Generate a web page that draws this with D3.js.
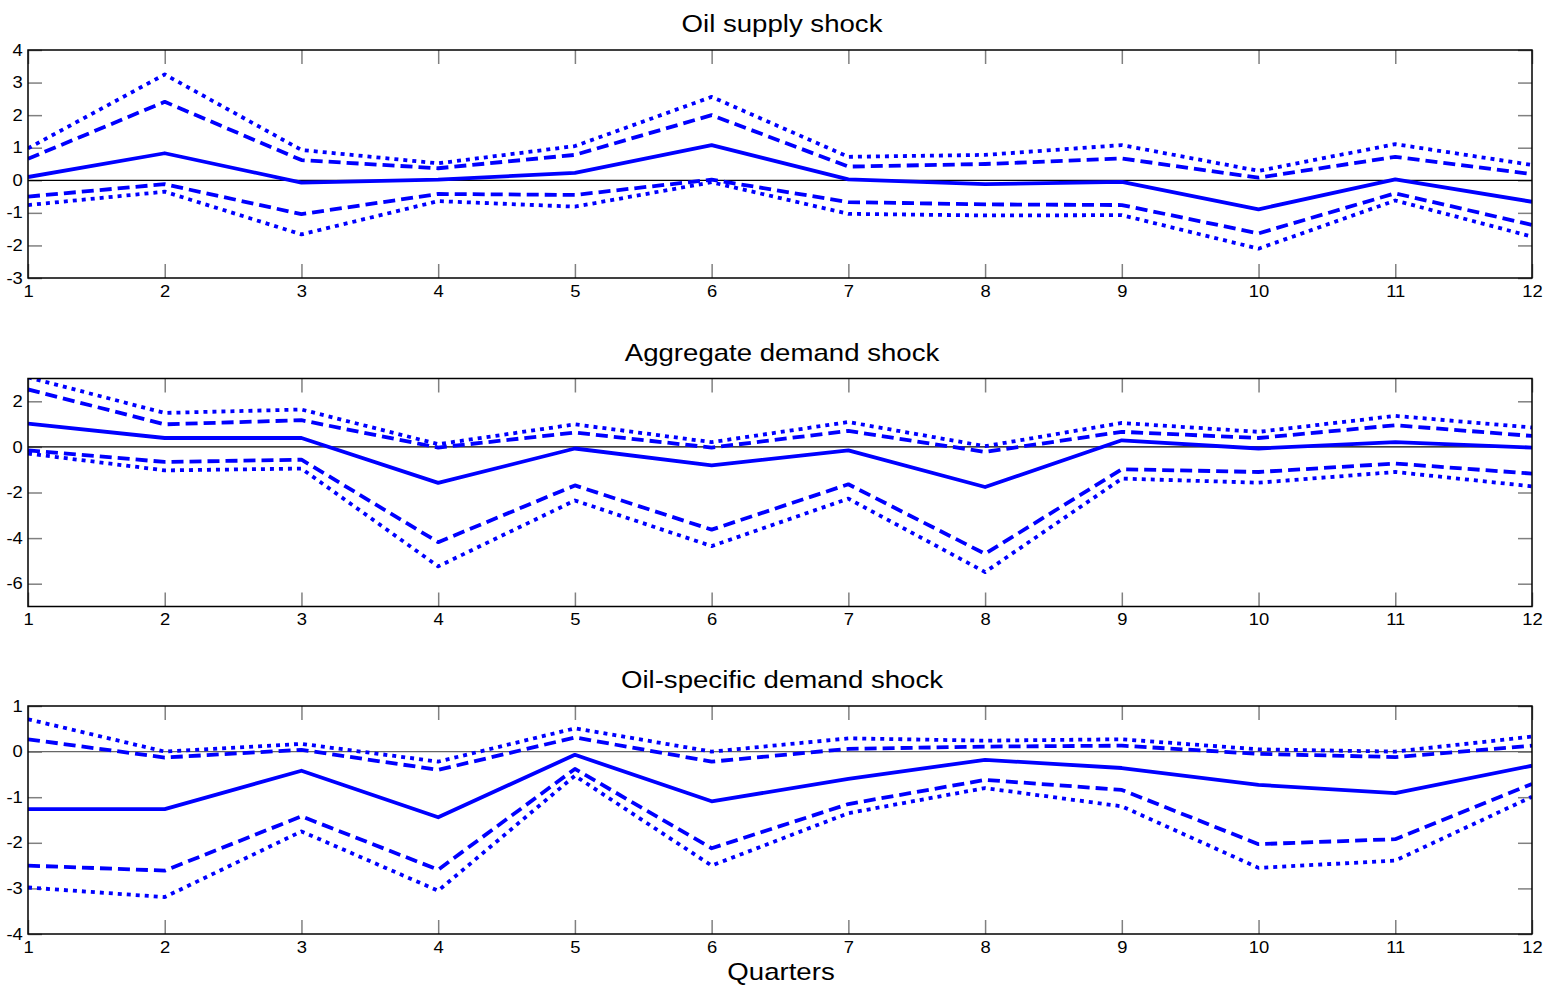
<!DOCTYPE html>
<html>
<head>
<meta charset="utf-8">
<script src="https://cdn.jsdelivr.net/npm/d3@7"></script>
<style>
  body { margin: 0; background: #fff; }
  text { font-family: Arial, "Liberation Sans", sans-serif; fill: #000; }
</style>
</head>
<body>
<div class="chart"></div>
<script>
    // quarters on the x axis
    const quarters = [1, 2, 3, 4, 5, 6, 7, 8, 9, 10, 11, 12];

    // oil supply shock
    const supplyMid     = [0.10, 0.83, -0.07, 0.02, 0.23, 1.08, 0.03, -0.12, -0.05, -0.89, 0.03, -0.66];
    const supplyInnerUp = [0.66, 2.41, 0.62, 0.37, 0.78, 2.00, 0.42, 0.50, 0.67, 0.08, 0.72, 0.19];
    const supplyOuterUp = [0.98, 3.25, 0.93, 0.52, 1.05, 2.56, 0.72, 0.78, 1.08, 0.29, 1.11, 0.47];
    const supplyInnerLo = [-0.50, -0.12, -1.04, -0.42, -0.45, 0.02, -0.67, -0.74, -0.76, -1.63, -0.40, -1.37];
    const supplyOuterLo = [-0.76, -0.35, -1.66, -0.64, -0.81, -0.06, -1.03, -1.08, -1.07, -2.10, -0.62, -1.73];
    const supplyTicks = [-3, -2, -1, 0, 1, 2, 3, 4];

    // aggregate demand shock
    const demandMid     = [1.02, 0.39, 0.39, -1.58, -0.07, -0.81, -0.15, -1.76, 0.29, -0.07, 0.21, -0.03];
    const demandInnerUp = [2.52, 0.99, 1.17, -0.03, 0.63, -0.03, 0.70, -0.22, 0.66, 0.39, 0.95, 0.48];
    const demandOuterUp = [3.05, 1.49, 1.64, 0.12, 0.99, 0.21, 1.09, 0.03, 1.05, 0.66, 1.36, 0.85];
    const demandInnerLo = [-0.15, -0.66, -0.56, -4.18, -1.69, -3.63, -1.64, -4.69, -0.98, -1.10, -0.73, -1.17];
    const demandOuterLo = [-0.29, -1.03, -0.95, -5.24, -2.35, -4.35, -2.27, -5.49, -1.39, -1.57, -1.10, -1.73];
    const demandTicks = [-6, -4, -2, 0, 2];

    // oil-specific demand shock
    const oilMid     = [-1.26, -1.26, -0.42, -1.44, -0.07, -1.09, -0.60, -0.18, -0.36, -0.73, -0.91, -0.31];
    const oilInnerUp = [0.27, -0.13, 0.04, -0.40, 0.31, -0.22, 0.06, 0.11, 0.13, -0.05, -0.12, 0.13];
    const oilOuterUp = [0.71, 0.00, 0.17, -0.22, 0.51, 0.00, 0.29, 0.24, 0.27, 0.05, 0.00, 0.33];
    const oilInnerLo = [-2.50, -2.61, -1.42, -2.59, -0.38, -2.12, -1.15, -0.62, -0.84, -2.03, -1.92, -0.71];
    const oilOuterLo = [-2.98, -3.19, -1.75, -3.05, -0.53, -2.50, -1.35, -0.80, -1.20, -2.55, -2.39, -0.99];
    const oilTicks = [-4, -3, -2, -1, 0, 1];

    const panels = [
        {title: "Oil supply shock", domain: [-3, 4], ticks: supplyTicks, top: 50, zero: "#000",
         series: [supplyMid, supplyInnerUp, supplyInnerLo, supplyOuterUp, supplyOuterLo]},
        {title: "Aggregate demand shock", domain: [-7, 3], ticks: demandTicks, top: 378.5, zero: "#000",
         series: [demandMid, demandInnerUp, demandInnerLo, demandOuterUp, demandOuterLo]},
        {title: "Oil-specific demand shock", domain: [-4, 1], ticks: oilTicks, top: 706, zero: "#666",
         series: [oilMid, oilInnerUp, oilInnerLo, oilOuterUp, oilOuterLo]}
    ];

    // solid, dashed, dashed, dotted, dotted
    const dashes = [null, "12,6", "12,6", "4,5", "4,5"];

    const margin = {left: 28, right: 17};
    const width = 1549 - margin.left - margin.right;
    const height = 228;
    const stretch = 1.15;   // the original text is a bit wide

    const svg = d3.select(".chart").append("svg")
        .attr("width", 1549)
        .attr("height", 985);

    const xScale = d3.scaleLinear()
        .domain([1, 12])
        .range([0, width]);

    // plain hyphen minus like the original
    const fmt = d => String(d);

    panels.forEach((p, k) => {
        const g = svg.append("g")
            .attr("transform", `translate(${margin.left},${p.top})`);

        const yScale = d3.scaleLinear()
            .domain(p.domain)
            .range([height, 0]);

        g.append("clipPath").attr("id", "clip" + k)
            .append("rect").attr("width", width).attr("height", height);

        // ticks on all four sides, pointing in
        g.append("g").attr("class", "axis x-axis")
            .attr("transform", `translate(0,${height})`)
            .call(d3.axisBottom(xScale).tickValues(quarters).tickFormat(fmt)
                .tickSizeInner(-14).tickSizeOuter(0).tickPadding(7.5));
        g.append("g").attr("class", "axis")
            .call(d3.axisTop(xScale).tickValues(quarters).tickSizeInner(-14).tickSizeOuter(0).tickFormat(""));
        g.append("g").attr("class", "axis y-axis")
            .call(d3.axisLeft(yScale).tickValues(p.ticks).tickFormat(fmt)
                .tickSizeInner(-14).tickSizeOuter(0).tickPadding(4.5));
        g.append("g").attr("class", "axis")
            .attr("transform", `translate(${width},0)`)
            .call(d3.axisRight(yScale).tickValues(p.ticks).tickSizeInner(-14).tickSizeOuter(0).tickFormat(""));

        g.selectAll(".axis .domain").remove();
        g.selectAll(".axis line").attr("stroke", "#808080").attr("stroke-width", 1.5);
        g.selectAll(".axis text")
            .attr("font-size", 16)
            .attr("fill", "#000")
            .attr("transform", `scale(${stretch},1)`);

        // zero line
        g.append("line")
            .attr("x1", 0).attr("x2", width)
            .attr("y1", yScale(0)).attr("y2", yScale(0))
            .attr("stroke", p.zero)
            .attr("stroke-width", 1.2);

        const line = d3.line()
            .x((d, i) => xScale(quarters[i]))
            .y(d => yScale(d));

        g.append("g").attr("clip-path", `url(#clip${k})`)
            .selectAll("path")
            .data(p.series)
            .join("path")
            .attr("d", line)
            .attr("fill", "none")
            .attr("stroke", "#0000ff")
            .attr("stroke-width", 3.8)
            .attr("stroke-linejoin", "round")
            .attr("stroke-dasharray", (d, i) => dashes[i]);

        g.append("rect")
            .attr("width", width)
            .attr("height", height)
            .attr("fill", "none")
            .attr("stroke", "#000")
            .attr("stroke-width", 1.5);

        g.append("text")
            .attr("transform", `translate(${width / 2 + 2},-18) scale(${stretch},1)`)
            .attr("text-anchor", "middle")
            .attr("font-size", 24)
            .text(p.title);
    });

    svg.append("text")
        .attr("transform", `translate(781,980) scale(${stretch},1)`)
        .attr("text-anchor", "middle")
        .attr("font-size", 24)
        .text("Quarters");
</script>
</body>
</html>
